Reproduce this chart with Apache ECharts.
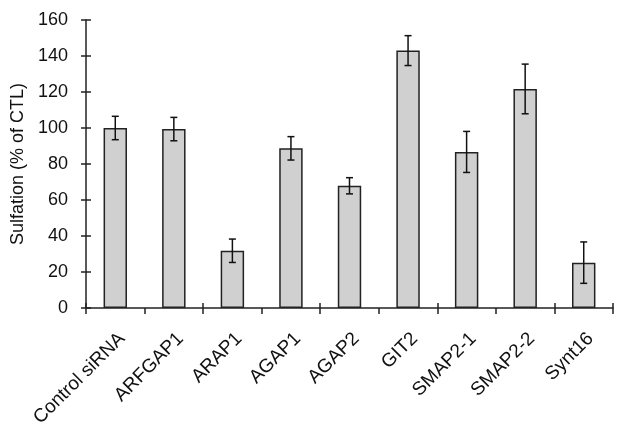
<!DOCTYPE html>
<html><head><meta charset="utf-8">
<script src="https://cdn.jsdelivr.net/npm/echarts@6/dist/echarts.min.js"></script>
<style>html,body{margin:0;padding:0;background:#fff}#c{width:622px;height:437px}</style>
</head><body><div id="c"></div>
<script>
const categories = ['Control siRNA','ARFGAP1','ARAP1','AGAP1','AGAP2','GIT2','SMAP2-1','SMAP2-2','Synt16'];
const values = [100, 99.4, 31.8, 88.7, 67.9, 143, 86.7, 121.7, 25.2];
const errors = [6.5, 6.5, 6.5, 6.5, 4.5, 8.3, 11.4, 13.8, 11.5];
const yTicks = [0, 20, 40, 60, 80, 100, 120, 140, 160];

const font = '"Liberation Sans", Arial, sans-serif';
const axisCol = '#222';
const chart = echarts.init(document.getElementById('c'));
chart.setOption({
  animation: false,
  grid: { left: 86, right: 9, top: 20, bottom: 129 },
  xAxis: [{
    type: 'category', data: categories,
    axisLine: { lineStyle: { color: axisCol, width: 1.5 } },
    axisTick: { show: true, length: 6, lineStyle: { color: axisCol, width: 1.5 } },
    axisLabel: { rotate: 45, color: '#111', fontSize: 19, fontFamily: font, margin: 21, interval: 0, verticalAlign: 'top' }
  }, {
    type: 'category', data: categories, position: 'bottom',
    axisLine: { show: false },
    axisTick: { show: true, inside: true, length: 5, lineStyle: { color: axisCol, width: 1.5 } },
    axisLabel: { show: false }
  }],
  yAxis: [{
    type: 'value', min: yTicks[0], max: yTicks[yTicks.length - 1], interval: 20,
    name: 'Sulfation (% of CTL)', nameLocation: 'middle', nameGap: 52,
    nameTextStyle: { color: '#111', fontSize: 18, fontFamily: font },
    axisLine: { show: true, lineStyle: { color: axisCol, width: 1.5 } },
    axisTick: { show: true, length: 5, lineStyle: { color: axisCol, width: 1.5 } },
    axisLabel: { color: '#111', fontSize: 18, fontFamily: font, margin: 18 },
    splitLine: { show: false }
  }, {
    type: 'value', min: yTicks[0], max: yTicks[yTicks.length - 1], interval: 20, position: 'left',
    axisLine: { show: false },
    axisTick: { show: true, inside: true, length: 5, lineStyle: { color: axisCol, width: 1.5 } },
    axisLabel: { show: false },
    splitLine: { show: false }
  }],
  series: [{
    type: 'bar', data: values, barWidth: '40%',
    itemStyle: { color: '#d0d0d0', borderColor: '#222', borderWidth: 1.5 }
  }, {
    type: 'custom',
    data: values.map((v, i) => [i, v - errors[i], v + errors[i]]),
    renderItem: function (params, api) {
      const lo = api.coord([api.value(0), api.value(1)]);
      const hi = api.coord([api.value(0), api.value(2)]);
      const hw = 3.5;
      const st = { stroke: '#111', lineWidth: 1.5 };
      return { type: 'group', children: [
        { type: 'line', shape: { x1: hi[0], y1: hi[1], x2: lo[0], y2: lo[1] }, style: st },
        { type: 'line', shape: { x1: hi[0] - hw, y1: hi[1], x2: hi[0] + hw, y2: hi[1] }, style: st },
        { type: 'line', shape: { x1: lo[0] - hw, y1: lo[1], x2: lo[0] + hw, y2: lo[1] }, style: st }
      ]};
    },
    z: 10
  }]
});
</script></body></html>
